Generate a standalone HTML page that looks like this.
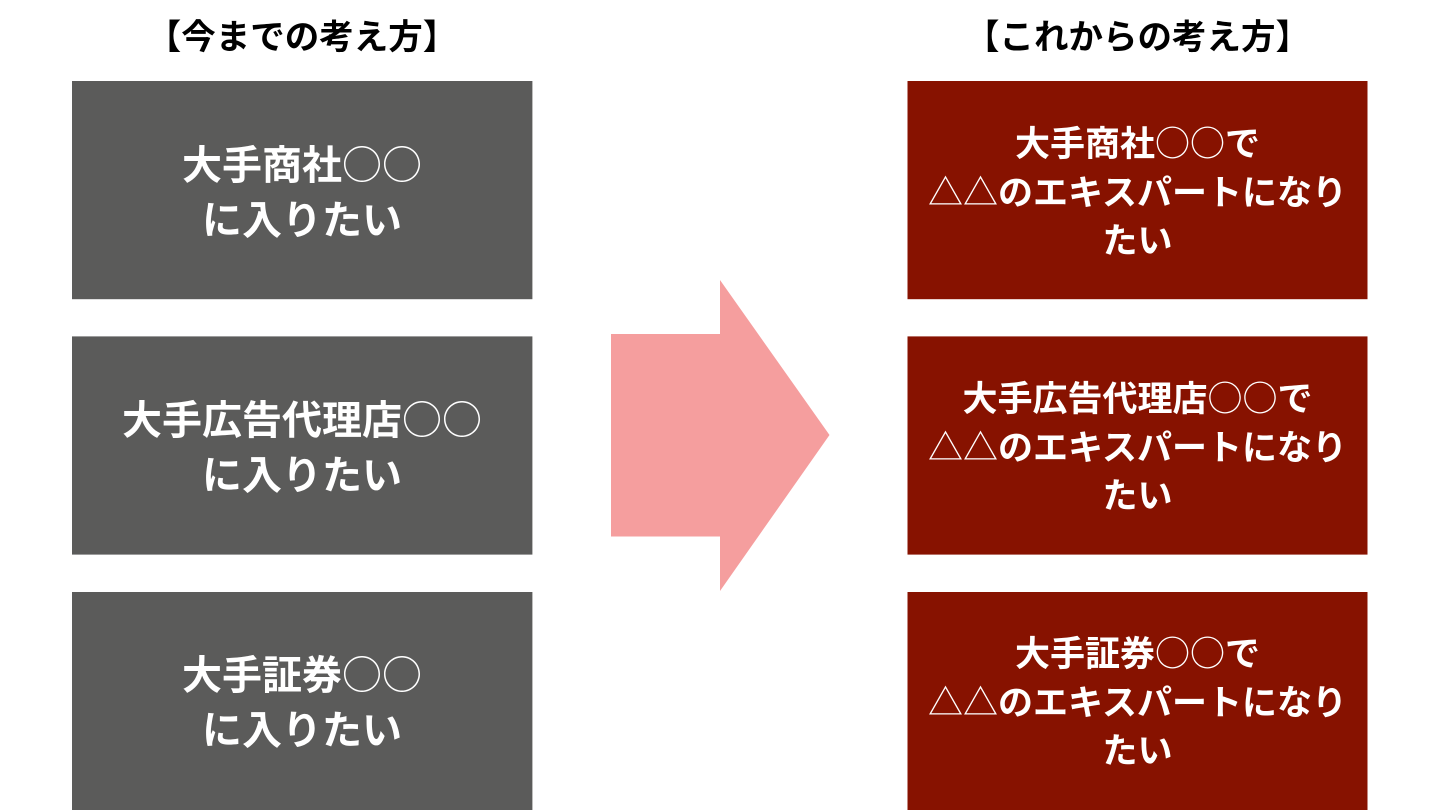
<!DOCTYPE html>
<html lang="ja">
<head>
<meta charset="utf-8">
<style>
html,body{margin:0;padding:0;background:#fff;}
body{width:1440px;height:810px;position:relative;overflow:hidden;font-family:"Liberation Sans","Noto Sans CJK JP",sans-serif;font-weight:700;}
.t{position:absolute;white-space:nowrap;text-align:center;line-height:1;}
.title{font-size:34.5px;color:#000;width:460px;}
.a{font-size:40px;color:#fff;width:460px;left:72px;}
.b{font-size:35px;color:#fff;width:460px;left:907.5px;}
.n{font-weight:400;font-family:"Noto Sans CJK JP",sans-serif;}
</style>
</head>
<body>
<svg style="position:absolute;left:0;top:0" width="1440" height="810">
<rect x="72" y="81" width="460.4" height="218.2" fill="#5b5b5a"/>
<rect x="72" y="336.4" width="460.4" height="218.2" fill="#5b5b5a"/>
<rect x="72" y="592" width="460.4" height="218" fill="#5b5b5a"/>
<rect x="907.5" y="81" width="460" height="218.2" fill="#871200"/>
<rect x="907.5" y="336.4" width="460" height="218.2" fill="#871200"/>
<rect x="907.5" y="592" width="460" height="218" fill="#871200"/>
<polygon points="611,334 720,334 720,280 829.5,435 720,591 720,536.5 611,536.5" fill="#f59e9e"/>
</svg>

<div class="t title" style="left:72px;top:21px">【今までの考え方】</div>
<div class="t title" style="left:907.5px;top:21px">【これからの考え方】</div>

<div class="t a" style="top:142px">大手商社<span class="n">○○</span></div>
<div class="t a" style="top:201px">に入りたい</div>
<div class="t a" style="top:397px">大手広告代理店<span class="n">○○</span></div>
<div class="t a" style="top:456px">に入りたい</div>
<div class="t a" style="top:652px">大手証券<span class="n">○○</span></div>
<div class="t a" style="top:711px">に入りたい</div>

<div class="t b" style="top:124px">大手商社<span class="n">○○</span>で</div>
<div class="t b" style="top:173px"><span class="n">△△</span>のエキスパートになり</div>
<div class="t b" style="top:224px">たい</div>
<div class="t b" style="top:379px">大手広告代理店<span class="n">○○</span>で</div>
<div class="t b" style="top:428px"><span class="n">△△</span>のエキスパートになり</div>
<div class="t b" style="top:479px">たい</div>
<div class="t b" style="top:634px">大手証券<span class="n">○○</span>で</div>
<div class="t b" style="top:683px"><span class="n">△△</span>のエキスパートになり</div>
<div class="t b" style="top:734px">たい</div>
</body>
</html>
